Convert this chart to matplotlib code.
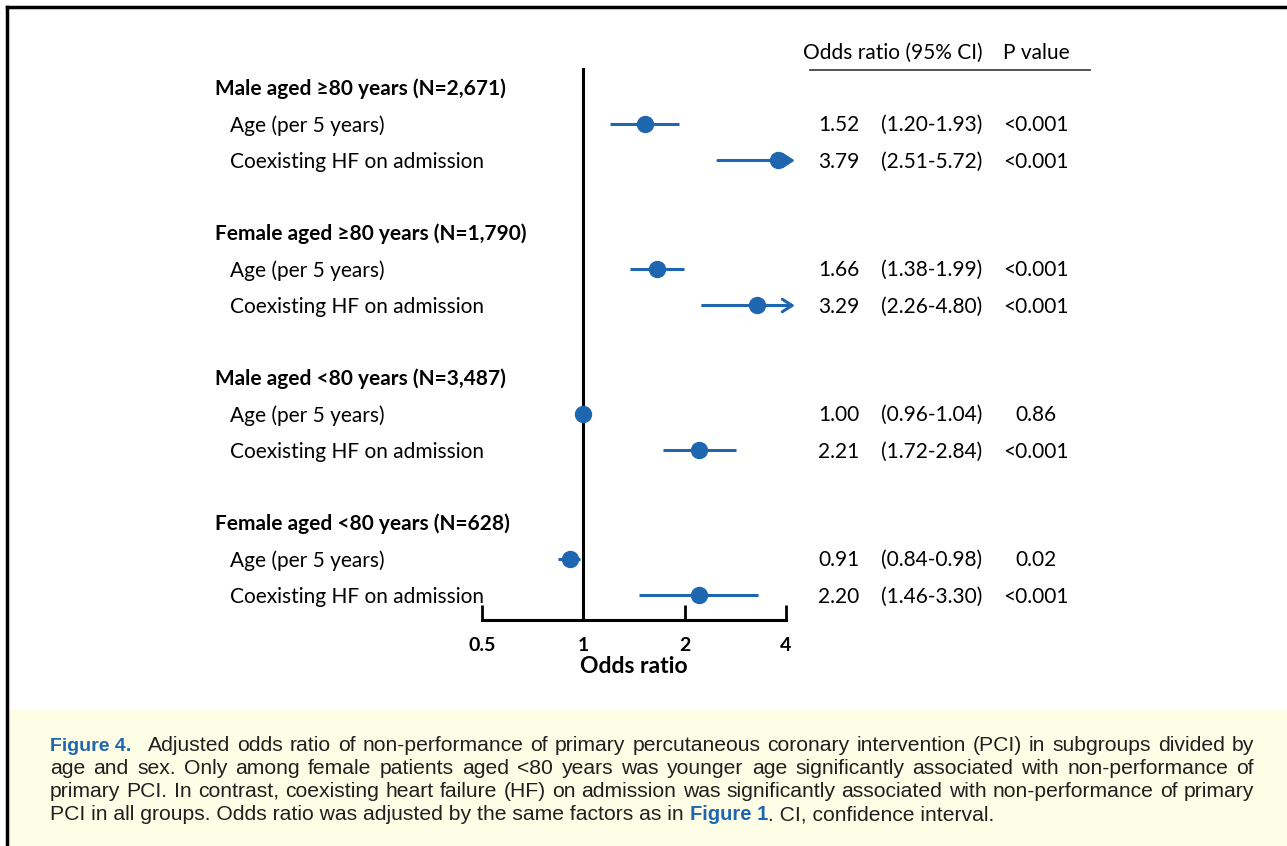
import matplotlib
matplotlib.use("Agg")
import matplotlib.pyplot as plt
import matplotlib.transforms as mtransforms
from matplotlib.patches import Rectangle
from matplotlib.lines import Line2D

# data
groups = ["Male aged \u226580 years (N=2,671)", "Female aged \u226580 years (N=1,790)",
          "Male aged <80 years (N=3,487)", "Female aged <80 years (N=628)"]
items = ["Age (per 5 years)", "Coexisting HF on admission"]
odds = [[1.52, 3.79], [1.66, 3.29], [1.00, 2.21], [0.91, 2.20]]
lower = [[1.20, 2.51], [1.38, 2.26], [0.96, 1.72], [0.84, 1.46]]
upper = [[1.93, 5.72], [1.99, 4.80], [1.04, 2.84], [0.98, 3.30]]
pvals = [["<0.001", "<0.001"], ["<0.001", "<0.001"], ["0.86", "<0.001"], ["0.02", "<0.001"]]
xticks = [0.5, 1, 2, 4]
xticklabels = ["0.5", "1", "2", "4"]

W, H = 1287, 846
blue = "#1f66b0"
font = ["Lato", "DejaVu Sans"]
fs = 15

fig = plt.figure(figsize=(W / 100, H / 100), dpi=100)

def fx(x):
    return x / W

def fy(y):
    return 1 - y / H

# forest axes: x 0.5..4 spans px 482..786, rows 36.25 px apart starting at px 88
x0, x1 = 482, 786
ytop_px, ybot_px = 68, 620
row0_px, row_h = 88, 36.25
ax = fig.add_axes([fx(x0), fy(ybot_px), (x1 - x0) / W, (ybot_px - ytop_px) / H])
ax.set_xscale("log")
ax.set_xlim(0.5, 4)
ax.set_ylim((ybot_px - row0_px) / row_h, (ytop_px - row0_px) / row_h)
for s in ["top", "right", "left"]:
    ax.spines[s].set_visible(False)
ax.spines["bottom"].set_linewidth(2.2)
ax.set_yticks([])
ax.set_xticks(xticks)
ax.set_xticklabels(xticklabels, fontsize=14, fontweight="bold", family=font)
ax.xaxis.set_minor_locator(matplotlib.ticker.NullLocator())
ax.tick_params(axis="x", direction="in", length=11, width=2, pad=12)
tcolors = ["black", "black", blue, blue]
for t, c in zip(ax.xaxis.get_major_ticks(), tcolors):
    t.tick1line.set_color(c)
ax.set_xlabel("Odds ratio", fontsize=16.5, fontweight="bold", family=font, labelpad=2)
ax.axvline(1, color="black", lw=2.2, zorder=3)
ax.patch.set_alpha(0)

trans = mtransforms.blended_transform_factory(fig.transFigure, ax.transData)

for g in range(4):
    yg = 4 * g
    ax.text(fx(215), yg + 0.03, groups[g], transform=trans, fontsize=fs, fontweight="bold",
            family=font, va="center")
    for i in range(2):
        y = yg + 1 + i
        ty = y + 0.03
        ax.text(fx(230), ty, items[i], transform=trans, fontsize=fs, family=font, va="center")
        o, lo, hi = odds[g][i], lower[g][i], upper[g][i]
        if hi > 4:
            ax.annotate("", xy=(4.25, y), xytext=(lo, y), annotation_clip=False,
                        arrowprops=dict(arrowstyle="->,head_length=0.7,head_width=0.45",
                                        color=blue, lw=2.2, shrinkA=0, shrinkB=0))
        else:
            ax.plot([lo, hi], [y, y], color=blue, lw=2.2, solid_capstyle="butt")
        ax.plot(o, y, "o", color=blue, ms=11.5, zorder=4, clip_on=False)
        ax.text(fx(818), ty, "%.2f" % o, transform=trans, fontsize=fs, family=font, va="center")
        ax.text(fx(881), ty, "(%.2f-%.2f)" % (lo, hi), transform=trans, fontsize=fs,
                family=font, va="center")
        ax.text(fx(1036), ty, pvals[g][i], transform=trans, fontsize=fs, family=font,
                va="center", ha="center")

# header
fig.text(fx(803), fy(53), "Odds ratio (95% CI)", fontsize=fs, family=font, va="center")
fig.text(fx(1036), fy(53), "P value", fontsize=fs, family=font, va="center", ha="center")
fig.add_artist(Line2D([fx(810), fx(1090)], [fy(70), fy(70)], color="#444444", lw=1.3))

# caption box
fig.add_artist(Rectangle((fx(8), 0), 1, fy(710), transform=fig.transFigure,
                         facecolor="#fefde5", edgecolor="none", zorder=0))
# frame
fig.add_artist(Line2D([fx(7), fx(7)], [0, fy(7)], color="black", lw=2.5))
fig.add_artist(Line2D([fx(7), 1], [fy(7), fy(7)], color="black", lw=2.5))

cap = ["Adjusted odds ratio of non-performance of primary percutaneous coronary intervention (PCI) in subgroups divided by",
       "age and sex. Only among female patients aged <80 years was younger age significantly associated with non-performance of",
       "primary PCI. In contrast, coexisting heart failure (HF) on admission was significantly associated with non-performance of primary",
       "PCI in all groups. Odds ratio was adjusted by the same factors as in "]
capfont = "Liberation Sans"
capsize = 15.2
capcol = "#231f20"
base_y = [751, 774, 797, 820]
cap_x = [148, 50, 50]
right_px = 1254
r = fig.canvas.get_renderer()

fig.text(fx(50), fy(base_y[0]), "Figure 4.", fontsize=14, fontweight="bold", color=blue,
         family=capfont, va="baseline")

# justified lines
for k in range(3):
    words = cap[k].split(" ")
    txts = [fig.text(0, fy(base_y[k]), w, fontsize=capsize, family=capfont, va="baseline",
                     color=capcol) for w in words]
    widths = [t.get_window_extent(r).width for t in txts]
    gap = (right_px - cap_x[k] - sum(widths)) / (len(words) - 1)
    xpos = cap_x[k]
    for t, wd in zip(txts, widths):
        t.set_x(fx(xpos))
        xpos += wd + gap

t4 = fig.text(fx(50), fy(base_y[3]), cap[3], fontsize=capsize, family=capfont, va="baseline",
              color=capcol)
bb = t4.get_window_extent(r)
t5 = fig.text(bb.x1 / W, fy(base_y[3]), "Figure 1", fontsize=14.5, fontweight="bold", color=blue,
              family=capfont, va="baseline")
bb = t5.get_window_extent(r)
fig.text(bb.x1 / W, fy(base_y[3]), ". CI, confidence interval.", fontsize=capsize, family=capfont,
         va="baseline", color=capcol)

fig.savefig("out.png", dpi=100)
